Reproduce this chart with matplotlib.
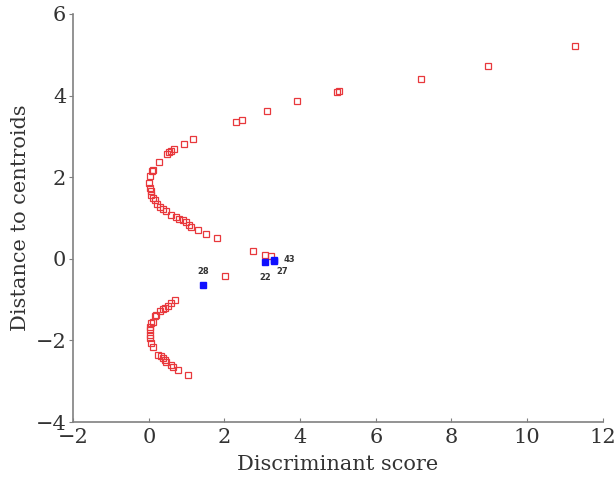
import matplotlib
matplotlib.use("Agg")
import matplotlib.pyplot as plt

# group 1 cases (open red squares)
x_red = [11.26, 8.98, 7.20, 4.97, 5.03, 3.93, 3.12, 2.46, 2.30, 1.16, 0.92,
         0.66, 0.59, 0.53, 0.49, 0.27, 0.11, 0.08, 0.03, 0.00, 0.03, 0.05,
         0.07, 0.11, 0.16, 0.22, 0.29, 0.37, 0.46, 0.59, 0.73, 0.81, 0.90,
         0.99, 1.07, 1.12, 1.31, 1.51, 1.81, 2.76, 3.06, 3.23, 2.01,
         0.68, 0.59, 0.51, 0.42, 0.37, 0.29, 0.20, 0.16, 0.11, 0.07, 0.04,
         0.03, 0.03, 0.04, 0.07, 0.10, 0.24, 0.33, 0.37, 0.42, 0.46, 0.59,
         0.64, 0.77, 1.03]
y_red = [5.22, 4.73, 4.41, 4.09, 4.12, 3.87, 3.63, 3.41, 3.36, 2.93, 2.81,
         2.69, 2.65, 2.61, 2.57, 2.37, 2.18, 2.14, 2.02, 1.86, 1.73, 1.65,
         1.57, 1.49, 1.43, 1.35, 1.28, 1.22, 1.17, 1.08, 1.02, 0.97, 0.94,
         0.89, 0.83, 0.79, 0.70, 0.61, 0.51, 0.20, 0.10, 0.07, -0.42,
         -1.00, -1.09, -1.15, -1.21, -1.23, -1.29, -1.37, -1.41, -1.54, -1.58,
         -1.66, -1.74, -1.86, -1.94, -2.07, -2.15, -2.35, -2.39, -2.43, -2.48,
         -2.52, -2.60, -2.65, -2.72, -2.84]

# misclassified cases (filled blue squares)
x_blue = [3.08, 3.30, 3.32, 1.44]
y_blue = [-0.09, -0.05, -0.02, -0.65]
labels_blue = ["22", "27", "43", "28"]

fig = plt.figure(figsize=(6.15, 4.91), dpi=100)
ax = fig.add_axes([0.119, 0.1405, 0.861, 0.831])

ax.plot(x_red, y_red, linestyle="none", marker="s", markersize=5,
        markerfacecolor="none", markeredgecolor="#e8383c", markeredgewidth=0.9)
ax.plot(x_blue, y_blue, linestyle="none", marker="s", markersize=5,
        color="#1010ff")

# label offsets in points
offs = {"22": (0, -11), "27": (6, -8), "43": (11, 0), "28": (0, 10)}
for xb, yb, lb in zip(x_blue, y_blue, labels_blue):
    ax.annotate(lb, (xb, yb), xytext=offs[lb], textcoords="offset points",
                ha="center", va="center", fontsize=6, color="#333333",
                fontweight="bold")

ax.set_xlim(-2, 12)
ax.set_ylim(-4, 6)
ax.set_xticks(range(-2, 13, 2))
ax.set_yticks(range(-4, 7, 2))
ax.set_xticklabels(["\u22122", "0", "2", "4", "6", "8", "10", "12"])
ax.set_yticklabels(["\u22124", "\u22122", "0", "2", "4", "6"])

for s in ["top", "right"]:
    ax.spines[s].set_visible(False)
for s in ["left", "bottom"]:
    ax.spines[s].set_color("#808080")
    ax.spines[s].set_linewidth(1.2)

ax.tick_params(axis="y", direction="out", length=3, color="#808080",
               labelsize=15, labelcolor="#333333", pad=2)
ax.tick_params(axis="x", direction="in", length=3, color="#808080",
               labelsize=15, labelcolor="#333333", pad=4)
for t in ax.get_xticklabels() + ax.get_yticklabels():
    t.set_family("DejaVu Serif")

ax.set_xlabel("Discriminant score", fontsize=15, family="DejaVu Serif",
              color="#333333", labelpad=6)
ax.set_ylabel("Distance to centroids", fontsize=15, family="DejaVu Serif",
              color="#333333", labelpad=4)

fig.savefig("out.png", dpi=100)
